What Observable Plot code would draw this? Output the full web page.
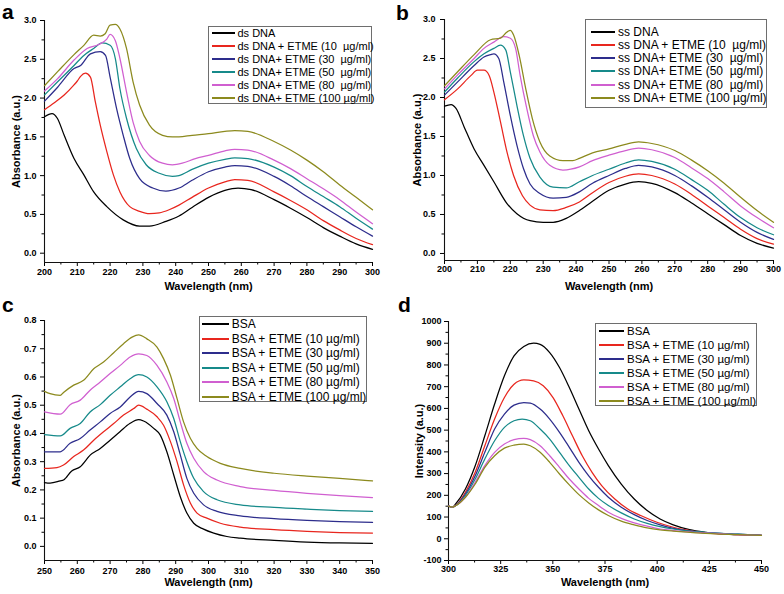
<!DOCTYPE html>
<html><head><meta charset="utf-8">
<script src="https://cdn.jsdelivr.net/npm/d3@7"></script>
<script src="https://cdn.jsdelivr.net/npm/@observablehq/plot@0.6"></script>
<style>
body{margin:0;background:#fff}
#root{position:relative;width:784px;height:594px;overflow:hidden;font-family:"Liberation Sans",Arial,sans-serif;color:#000}
.panel{position:absolute}
.legend{position:absolute;border:1px solid #6e6e6e;background:#fff;box-sizing:border-box}
.row{position:absolute;white-space:pre;line-height:14px;height:14px}
.sw{position:absolute;height:2px}
.letter{position:absolute;font-weight:bold;font-size:21px;line-height:18px;height:18px}
</style></head>
<body><div id="root"></div>
<script>
// ---------- data ----------
const colors = ["#000000", "#e8261e", "#2d2d8c", "#168a8a", "#d05fd0", "#8c8a1e"];

const namesA = ["ds DNA", "ds DNA + ETME (10  µg/ml)", "ds DNA+ ETME (30  µg/ml)", "ds DNA+ ETME (50  µg/ml)", "ds DNA+ ETME (80  µg/ml)", "ds DNA+ ETME (100 µg/ml)"];
const namesB = ["ss DNA", "ss DNA + ETME (10  µg/ml)", "ss DNA+ ETME (30  µg/ml)", "ss DNA+ ETME (50  µg/ml)", "ss DNA+ ETME (80  µg/ml)", "ss DNA+ ETME (100 µg/ml)"];
const namesC = ["BSA", "BSA + ETME (10 µg/ml)", "BSA + ETME (30 µg/ml)", "BSA + ETME (50 µg/ml)", "BSA + ETME (80 µg/ml)", "BSA + ETME (100 µg/ml)"];
const namesD = namesC;

// panel a: ds DNA absorbance  [wavelength nm, absorbance]
const a0 = [[200,1.76],[202.3,1.80],[203.9,1.74],[206,1.52],[209,1.22],[212,1.01],[215,0.79],[219,0.60],[224,0.43],[229,0.35],[232,0.35],[237,0.41],[241,0.48],[245,0.59],[250,0.72],[255,0.81],[259,0.84],[263,0.82],[270,0.69],[275,0.58],[280,0.46],[285,0.33],[290,0.22],[295,0.12],[300,0.05]];
const a1 = [[200,1.85],[203,1.94],[206,2.04],[209,2.17],[210,2.22],[211,2.28],[212.5,2.32],[214,2.27],[215.5,1.95],[217,1.65],[219,1.31],[221,1.01],[223,0.79],[226,0.60],[229,0.54],[232,0.51],[235,0.52],[238,0.56],[241,0.62],[245,0.72],[250,0.84],[255,0.92],[258,0.95],[262,0.94],[270,0.79],[275,0.68],[280,0.56],[285,0.42],[290,0.30],[295,0.19],[300,0.11]];
const a2 = [[200,1.96],[204,2.14],[209,2.38],[211,2.42],[214,2.57],[217,2.60],[218.6,2.55],[220,2.27],[222,1.86],[224,1.52],[226,1.22],[229,0.96],[233,0.84],[237,0.80],[241,0.84],[245,0.94],[250,1.05],[255,1.11],[258,1.13],[262,1.12],[270,0.99],[275,0.87],[280,0.73],[285,0.60],[290,0.47],[295,0.34],[300,0.22]];
const a3 = [[200,2.04],[204,2.21],[209,2.42],[212,2.55],[215,2.64],[217.6,2.71],[220,2.68],[221.6,2.51],[223,2.12],[225,1.74],[228,1.35],[231,1.14],[235,1.03],[239,0.99],[241,1.00],[245,1.08],[250,1.16],[255,1.21],[258,1.23],[262,1.22],[270,1.11],[275,1.00],[280,0.86],[285,0.73],[290,0.60],[295,0.45],[300,0.31]];
const a4 = [[200,2.09],[204,2.25],[209,2.49],[213,2.64],[216.5,2.69],[219,2.76],[220,2.82],[221.6,2.74],[223,2.51],[225,2.08],[227,1.69],[229,1.44],[232,1.26],[236,1.16],[239,1.14],[242,1.16],[246,1.22],[250,1.26],[255,1.32],[258,1.34],[262,1.33],[270,1.20],[275,1.09],[280,0.96],[285,0.83],[290,0.69],[295,0.53],[300,0.38]];
const a5 = [[200,2.16],[204,2.34],[209,2.56],[212,2.68],[215,2.81],[217,2.80],[218.5,2.83],[220,2.94],[221.6,2.95],[223,2.89],[225,2.64],[227,2.21],[229,1.91],[232,1.65],[236,1.52],[239,1.50],[241,1.50],[245,1.52],[250,1.54],[255,1.57],[258,1.58],[262,1.57],[270,1.44],[275,1.33],[280,1.20],[285,1.05],[290,0.88],[295,0.72],[300,0.56]];

// panel b: ss DNA absorbance
const b0 = [[200,1.89],[202,1.91],[203.5,1.86],[206,1.62],[209,1.34],[212,1.13],[215,0.92],[219,0.64],[222,0.51],[226,0.42],[230,0.40],[233,0.40],[237,0.45],[241,0.55],[245,0.67],[250,0.81],[255,0.89],[259,0.92],[263,0.90],[270,0.78],[275,0.65],[280,0.51],[285,0.37],[290,0.23],[295,0.13],[300,0.07]];
const b1 = [[200,1.97],[204,2.11],[208,2.28],[210,2.35],[212,2.35],[213.6,2.28],[215,2.07],[217,1.69],[219,1.30],[221,1.00],[223.7,0.74],[226,0.62],[229,0.56],[233,0.55],[237,0.59],[241,0.66],[245,0.78],[250,0.91],[255,0.99],[259,1.02],[263,1.00],[270,0.89],[275,0.76],[280,0.61],[285,0.46],[290,0.31],[295,0.19],[300,0.12]];
const b2 = [[200,2.03],[204,2.20],[209,2.41],[212,2.52],[214,2.55],[215,2.56],[216.5,2.50],[218,2.20],[220,1.77],[222,1.39],[224,1.09],[226,0.89],[229,0.77],[233,0.71],[237,0.72],[241,0.79],[245,0.90],[250,1.00],[255,1.09],[259,1.13],[263,1.11],[270,1.00],[275,0.87],[280,0.72],[285,0.56],[290,0.40],[295,0.27],[300,0.18]];
const b3 = [[200,2.07],[204,2.25],[209,2.46],[212,2.56],[215,2.63],[217,2.67],[218.6,2.61],[220,2.33],[222,1.90],[224,1.51],[226,1.22],[229,0.98],[233,0.85],[237,0.84],[241,0.92],[245,1.00],[250,1.08],[255,1.16],[259,1.20],[263,1.18],[270,1.08],[275,0.95],[280,0.81],[285,0.63],[290,0.46],[295,0.33],[300,0.24]];
const b4 = [[200,2.11],[204,2.29],[209,2.50],[212,2.63],[215,2.71],[218,2.78],[220,2.76],[221.6,2.63],[223,2.28],[225,1.86],[227,1.51],[229,1.30],[232,1.13],[236,1.07],[241,1.11],[245,1.19],[250,1.26],[255,1.32],[259,1.35],[263,1.33],[270,1.23],[275,1.10],[280,0.96],[285,0.79],[290,0.61],[295,0.46],[300,0.33]];
const b5 = [[200,2.15],[204,2.33],[209,2.55],[214,2.74],[217,2.76],[219,2.84],[220,2.86],[221,2.80],[222.7,2.54],[224.7,2.11],[226.7,1.73],[229,1.43],[232,1.25],[236,1.19],[239,1.19],[241,1.22],[245,1.29],[250,1.34],[255,1.40],[259,1.43],[263,1.41],[270,1.32],[275,1.20],[280,1.06],[285,0.90],[290,0.72],[295,0.55],[300,0.40]];

// panel c: BSA absorbance
const c0 = [[250,0.226],[251.7,0.224],[254.8,0.232],[255.8,0.235],[258.3,0.267],[260.9,0.282],[264,0.324],[267,0.347],[270,0.376],[273,0.406],[276,0.435],[278.7,0.449],[280.2,0.444],[283.3,0.418],[285.3,0.394],[287.3,0.335],[289.4,0.253],[291.4,0.176],[293.4,0.118],[295.5,0.082],[298.5,0.061],[301.6,0.047],[305.6,0.035],[309.7,0.029],[320,0.021],[330,0.015],[340,0.012],[350,0.011]];
const c1 = [[250,0.276],[253.8,0.279],[255.8,0.288],[258.9,0.318],[261.9,0.341],[265,0.376],[268,0.406],[271.1,0.435],[274.1,0.465],[277.2,0.488],[278.7,0.5],[281.2,0.486],[284.3,0.459],[286.3,0.429],[288.4,0.371],[290.4,0.3],[292.4,0.218],[294.5,0.153],[296.5,0.118],[299.5,0.1],[303.6,0.082],[309.7,0.068],[320,0.059],[330,0.053],[340,0.049],[350,0.047]];
const c2 = [[250,0.335],[254.8,0.335],[257.8,0.365],[260.9,0.382],[263.9,0.412],[267,0.441],[270,0.471],[273.1,0.494],[276.1,0.529],[278.7,0.549],[281.2,0.541],[284.3,0.506],[287.3,0.465],[289.4,0.406],[291.4,0.324],[293.4,0.241],[295.5,0.188],[298.5,0.147],[302.6,0.124],[309.7,0.108],[320,0.098],[330,0.092],[340,0.088],[350,0.085]];
const c3 = [[250,0.396],[254.8,0.391],[257.8,0.418],[260.9,0.435],[263.9,0.476],[267,0.502],[270,0.535],[273.1,0.565],[276.1,0.594],[278.7,0.608],[281.2,0.6],[284.3,0.565],[287.3,0.512],[289.4,0.453],[291.4,0.371],[293.4,0.3],[295.5,0.241],[298.5,0.194],[302.6,0.165],[309.7,0.147],[320,0.138],[330,0.132],[340,0.127],[350,0.124]];
const c4 = [[250,0.476],[254.8,0.468],[257.8,0.502],[260.9,0.518],[263.9,0.553],[267,0.582],[270,0.612],[273.1,0.641],[276.1,0.671],[278.7,0.682],[281.2,0.676],[284.3,0.641],[287.3,0.582],[289.4,0.524],[291.4,0.441],[293.4,0.365],[295.5,0.312],[298.5,0.265],[302.6,0.235],[309.7,0.212],[320,0.198],[330,0.188],[340,0.18],[350,0.173]];
const c5 = [[250,0.549],[251.7,0.541],[254.8,0.535],[255.8,0.545],[258.9,0.571],[261.9,0.588],[265,0.629],[268,0.653],[271.1,0.686],[274.1,0.718],[276.7,0.741],[278.7,0.749],[281.2,0.735],[284.3,0.706],[286.3,0.665],[288.4,0.606],[290.4,0.524],[292.4,0.441],[294.5,0.382],[296.5,0.347],[299.5,0.318],[303.6,0.294],[309.7,0.276],[320,0.259],[330,0.249],[340,0.241],[350,0.232]];

// panel d: BSA fluorescence intensity
const d0 = [[300,150],[302,146],[303.4,160],[308.1,229],[312.8,336],[317.4,474],[322.1,620],[326.8,750],[331.4,842],[336.1,885],[340.8,900],[343.9,895],[348.5,857],[353.2,788],[357.9,696],[362.5,597],[367.2,497],[371.9,413],[376.6,337],[382.8,252],[389,183],[395.2,130],[401.4,91],[407.7,64],[415.5,42],[423.2,30],[431,22],[438.8,19],[450,16]];
const d1 = [[300,150],[302,146],[303.4,153],[308.1,214],[312.8,306],[317.4,428],[322.1,551],[326.8,650],[331.4,711],[336.1,731],[340.8,727],[345.4,704],[350.1,650],[354.8,566],[359.4,474],[364.1,382],[368.8,306],[373.4,245],[379.7,183],[385.9,137],[392.1,107],[399.9,76],[407.7,53],[415.5,38],[423.2,27],[438.8,19],[450,16]];
const d2 = [[300,150],[302,146],[303.4,153],[308.1,206],[312.8,290],[317.4,398],[322.1,505],[326.8,574],[331.4,615],[336.1,627],[339.2,624],[343.9,597],[348.5,551],[353.2,490],[357.9,421],[362.5,352],[367.2,290],[371.9,237],[376.6,191],[382.8,145],[389,111],[395.2,84],[401.4,64],[407.7,48],[415.5,36],[423.2,28],[438.8,21],[450,16]];
const d3 = [[300,150],[302,146],[303.4,152],[308.1,199],[312.8,275],[317.4,367],[322.1,451],[326.8,513],[331.4,543],[335.3,551],[339.2,543],[343.9,505],[348.5,459],[353.2,398],[357.9,337],[362.5,283],[367.2,229],[371.9,186],[376.6,153],[382.8,119],[389,91],[395.2,71],[401.4,56],[407.7,45],[423.2,30],[438.8,21],[450,16]];
const d4 = [[300,150],[302,146],[303.4,152],[308.1,191],[312.8,260],[317.4,337],[322.1,398],[326.8,436],[331.4,456],[336.1,462],[339.2,456],[343.9,428],[348.5,382],[353.2,329],[357.9,275],[362.5,229],[367.2,186],[371.9,153],[376.6,122],[382.8,94],[389,73],[395.2,58],[401.4,45],[407.7,38],[423.2,27],[438.8,19],[450,16]];
const d5 = [[300,150],[302,146],[303.4,152],[308.1,191],[312.8,252],[317.4,329],[322.1,382],[326.8,417],[331.4,431],[336.1,436],[339.2,428],[343.9,398],[348.5,352],[353.2,298],[357.9,248],[362.5,203],[367.2,165],[371.9,133],[376.6,107],[382.8,81],[389,64],[395.2,50],[401.4,41],[407.7,35],[423.2,25],[438.8,19],[450,16]];

// axis ticks
const xTicksAB = [200,210,220,230,240,250,260,270,280,290,300];
const xMinorAB = [205,215,225,235,245,255,265,275,285,295];
const yTicksAB = [0,0.5,1.0,1.5,2.0,2.5,3.0];
const yMinorAB = [0.25,0.75,1.25,1.75,2.25,2.75];
const xTicksC = [250,260,270,280,290,300,310,320,330,340,350];
const xMinorC = [255,265,275,285,295,305,315,325,335,345];
const yTicksC = [0,0.1,0.2,0.3,0.4,0.5,0.6,0.7,0.8];
const yMinorC = [0.05,0.15,0.25,0.35,0.45,0.55,0.65,0.75];
const xTicksD = [300,325,350,375,400,425,450];
const xMinorD = [312.5,337.5,362.5,387.5,412.5,437.5];
const yTicksD = [-100,0,100,200,300,400,500,600,700,800,900,1000];
const yMinorD = [-50,50,150,250,350,450,550,650,750,850,950];

const FONT = '"Liberation Sans", Arial, Helvetica, sans-serif';
const root = document.getElementById("root");

function panel(cfg) {
  const data = cfg.series.flatMap((s, i) => s.map(([x, y]) => ({x, y, k: cfg.names[i]})));
  const svg = Plot.plot({
    width: 392, height: cfg.height,
    marginTop: cfg.m[0], marginRight: cfg.m[1], marginBottom: cfg.m[2], marginLeft: cfg.m[3],
    style: {fontFamily: FONT, fontSize: "9px", fontWeight: "bold", color: "#000", background: "transparent", overflow: "visible"},
    x: {domain: cfg.xDomain},
    y: {domain: cfg.yDomain},
    color: {domain: cfg.names, range: colors},
    marks: [
      Plot.axisX(cfg.xTicks, {tickSize: 4, tickPadding: cfg.xPad, label: null, tickFormat: d => String(d), strokeWidth: 1}),
      Plot.axisX(cfg.xMinor, {tickSize: 2.5, label: null, tickFormat: () => "", strokeWidth: 1}),
      Plot.axisY(cfg.yTicks, {tickSize: 4, tickPadding: cfg.yPad, label: null, tickFormat: cfg.yFmt, strokeWidth: 1}),
      Plot.axisY(cfg.yMinor, {tickSize: 2.5, label: null, tickFormat: () => "", strokeWidth: 1}),
      Plot.ruleX([cfg.xDomain[0]], {stroke: "#111", strokeWidth: 1.1}),
      Plot.ruleY([cfg.yDomain[0]], {stroke: "#111", strokeWidth: 1.1}),
      Plot.line(data, {x: "x", y: "y", z: "k", stroke: "k", strokeWidth: 1.25, curve: "monotone-x"}),
      Plot.text([cfg.xTitle], {frameAnchor: "bottom", dy: cfg.xTitleDy, fontSize: 11, fontWeight: "bold", lineAnchor: "middle", fill: "#000"}),
      Plot.text([cfg.yTitle], {frameAnchor: "left", dx: cfg.yTitleDx, rotate: -90, fontSize: 11, fontWeight: "bold", lineAnchor: "middle", textAnchor: "middle", fill: "#000"})
    ]
  });
  const wrap = document.createElement("div");
  wrap.className = "panel";
  wrap.style.left = cfg.left + "px";
  wrap.style.top = cfg.top + "px";
  wrap.appendChild(svg);
  root.appendChild(wrap);

  // legend
  const L = cfg.legend;
  const box = document.createElement("div");
  box.className = "legend";
  box.style.left = L.box[0] + "px"; box.style.top = L.box[1] + "px";
  box.style.width = (L.box[2] - L.box[0]) + "px"; box.style.height = (L.box[3] - L.box[1]) + "px";
  root.appendChild(box);
  cfg.names.forEach((n, i) => {
    const cy = Math.round(L.row0 + i * L.step);
    const sw = document.createElement("div");
    sw.className = "sw";
    sw.style.left = L.line[0] + "px"; sw.style.width = (L.line[1] - L.line[0]) + "px";
    sw.style.top = (cy - 1) + "px"; sw.style.background = colors[i];
    root.appendChild(sw);
    const t = document.createElement("div");
    t.className = "row";
    t.textContent = n;
    t.style.left = L.textX + "px";
    t.style.top = (cy - 7) + "px";
    t.style.fontSize = L.fs + "px";
    root.appendChild(t);
  });

  const letter = document.createElement("div");
  letter.className = "letter";
  letter.textContent = cfg.letter[0];
  letter.style.left = cfg.letter[1] + "px";
  letter.style.top = cfg.letter[2] + "px";
  root.appendChild(letter);
}

const f1 = d => d.toFixed(1);

panel({
  left: 0, top: 0, height: 290, m: [20, 20, 28, 44],
  xDomain: [200, 300], yDomain: [-0.12, 3.0],
  xTicks: xTicksAB, xMinor: xMinorAB, yTicks: yTicksAB, yMinor: yMinorAB, yFmt: f1, xPad: 2, yPad: 4,
  series: [a0, a1, a2, a3, a4, a5], names: namesA,
  xTitle: "Wavelength (nm)", xTitleDy: 23.5, yTitle: "Absorbance (a.u.)", yTitleDx: -28,
  legend: {box: [208, 26, 372, 104], row0: 33.3, step: 13, line: [212, 235], textX: 237.5, fs: 11},
  letter: ["a", 2, 3]
});
panel({
  left: 392, top: 0, height: 290, m: [19, 11, 30, 52],
  xDomain: [200, 300], yDomain: [-0.09, 3.0],
  xTicks: xTicksAB, xMinor: xMinorAB, yTicks: yTicksAB, yMinor: yMinorAB, yFmt: f1, xPad: 1, yPad: 5,
  series: [b0, b1, b2, b3, b4, b5], names: namesB,
  xTitle: "Wavelength (nm)", xTitleDy: 26, yTitle: "Absorbance (a.u.)", yTitleDx: -27,
  legend: {box: [585, 19, 767, 108], row0: 31.7, step: 13.2, line: [591, 615], textX: 618, fs: 12},
  letter: ["b", 396, 4]
});
panel({
  left: 0, top: 290, height: 304, m: [30, 20, 34, 44],
  xDomain: [250, 350], yDomain: [-0.05, 0.8],
  xTicks: xTicksC, xMinor: xMinorC, yTicks: yTicksC, yMinor: yMinorC, yFmt: f1, xPad: 3, yPad: 4,
  series: [c0, c1, c2, c3, c4, c5], names: namesC,
  xTitle: "Wavelength (nm)", xTitleDy: 22, yTitle: "Absorbance (a.u.)", yTitleDx: -28,
  legend: {box: [199, 316, 367, 402], row0: 324.3, step: 14.5, line: [202, 228.5], textX: 231.7, fs: 12},
  letter: ["c", 2, 296]
});
panel({
  left: 392, top: 290, height: 304, m: [31, 23, 34, 56],
  xDomain: [300, 450], yDomain: [-100, 1000],
  xTicks: xTicksD, xMinor: xMinorD, yTicks: yTicksD, yMinor: yMinorD, yFmt: d => String(d), xPad: 1, yPad: 3,
  series: [d0, d1, d2, d3, d4, d5], names: namesD,
  xTitle: "Wavelength (nm)", xTitleDy: 22, yTitle: "Intensity (a.u.)", yTitleDx: -29,
  legend: {box: [595, 322.7, 757, 406], row0: 331, step: 13.9, line: [599, 624], textX: 627, fs: 11.5},
  letter: ["d", 398, 296]
});
</script>
</body></html>
